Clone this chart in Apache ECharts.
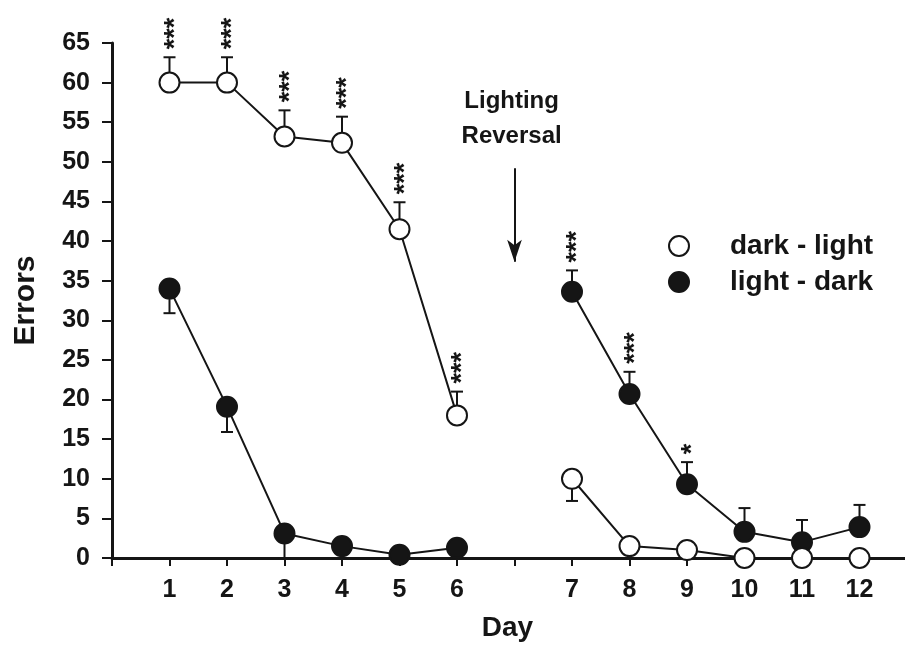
<!DOCTYPE html>
<html>
<head>
<meta charset="utf-8">
<script src="https://cdn.jsdelivr.net/npm/echarts@6/dist/echarts.min.js"></script>
<style>html,body{margin:0;padding:0;background:#fff;}#c{width:905px;height:647px;}</style>
</head>
<body>
<div id="c"></div>
<script>
// ---- data ----
var dayLabels = ['1','2','3','4','5','6','','7','8','9','10','11','12'];
var darkLight    = [60, 60, 53.2, 52.4, 41.5, 18, null, 10, 1.5, 1.0, 0, 0, 0];
var darkLightErr = [3.2, 3.2, 3.3, 3.3, 3.4, 3.0, null, -2.8, null, null, null, null, null];
var darkLightSig = ['***','***','***','***','***','***','','','','','','',''];
var lightDark    = [34, 19.1, 3.1, 1.5, 0.4, 1.3, null, 33.6, 20.7, 9.3, 3.3, 2.0, 3.9];
var lightDarkErr = [-3.1, -3.2, -3.1, null, null, null, null, 2.7, 2.8, 2.8, 3.0, 2.8, 2.8];
var lightDarkSig = ['','','','','','','','***','***','*','','',''];
var yTicks = {min: 0, max: 65, step: 5};

var FONT = '"Liberation Sans", Arial, Helvetica, sans-serif';
var INK = '#151515';

function pairs(vals) {
  return vals.map(function (v, i) { return [i + 1, v == null ? '-' : v]; });
}
function errData(vals, errs) {
  var out = [];
  vals.forEach(function (v, i) { if (v != null && errs[i] != null) out.push([i + 1, v, errs[i]]); });
  return out;
}
function sigData(vals, errs, sig) {
  var out = [];
  vals.forEach(function (v, i) { if (sig[i]) out.push([i + 1, v + (errs[i] > 0 ? errs[i] : 0), i]); });
  return out;
}
function renderErr(params, api) {
  var x = api.value(0), y = api.value(1), e = api.value(2);
  var p0 = api.coord([x, y]);
  var p1 = api.coord([x, Math.max(0, y + e)]);
  var hw = 6;
  return {type: 'group', children: [
    {type: 'line', shape: {x1: p0[0], y1: p0[1], x2: p1[0], y2: p1[1]}, style: {stroke: INK, lineWidth: 2}},
    {type: 'line', shape: {x1: p1[0] - hw, y1: p1[1], x2: p1[0] + hw, y2: p1[1]}, style: {stroke: INK, lineWidth: 2}}
  ]};
}
function makeSigRenderer(sig) {
  return function (params, api) {
    var x = api.value(0), y = api.value(1), idx = api.value(2);
    var p = api.coord([x, y]);
    return {type: 'text', x: p[0] + 6, y: p[1] - 8, rotation: Math.PI / 2,
      style: {text: sig[idx], font: 'bold 27px ' + FONT, fill: INK, align: 'left', verticalAlign: 'middle'}};
  };
}

var chart = echarts.init(document.getElementById('c'));
var option = {
  animation: false,
  backgroundColor: '#fff',
  grid: {left: 112, top: 43, bottom: 89, right: -12, containLabel: false, outerBoundsMode: 'none'},
  xAxis: {
    type: 'value', min: 0, max: 14, interval: 1,
    name: 'Day', nameLocation: 'middle', nameGap: 56,
    nameTextStyle: {fontFamily: FONT, fontWeight: 'bold', fontSize: 28, color: INK, padding: [0, 14, 0, 0]},
    axisLine: {show: true, lineStyle: {color: INK, width: 3}},
    axisTick: {show: true, length: 8, lineStyle: {color: INK, width: 2}},
    splitLine: {show: false},
    axisLabel: {margin: 20, fontFamily: FONT, fontWeight: 'bold', fontSize: 25, color: INK,
      formatter: function (v) { return dayLabels[v - 1] || ''; }}
  },
  yAxis: {
    type: 'value', min: yTicks.min, max: yTicks.max, interval: yTicks.step,
    name: 'Errors', nameLocation: 'middle', nameGap: 71,
    nameTextStyle: {fontFamily: FONT, fontWeight: 'bold', fontSize: 30, color: INK},
    axisLine: {show: true, lineStyle: {color: INK, width: 3}},
    axisTick: {show: true, length: 10, lineStyle: {color: INK, width: 2}},
    splitLine: {show: false},
    axisLabel: {margin: 22, fontFamily: FONT, fontWeight: 'bold', fontSize: 25, color: INK}
  },
  legend: {
    orient: 'vertical', left: 663, top: 227,
    itemWidth: 20, itemHeight: 20, itemGap: 8,
    textStyle: {fontFamily: FONT, fontWeight: 'bold', fontSize: 28, color: INK, padding: [0, 0, 0, 36]},
    data: [
      {name: 'dark - light', icon: 'circle', itemStyle: {color: '#fff', borderColor: INK, borderWidth: 2}},
      {name: 'light - dark', icon: 'circle', itemStyle: {color: INK, borderColor: INK, borderWidth: 2}}
    ]
  },
  series: [
    {type: 'custom', name: 'errDL', renderItem: renderErr, data: errData(darkLight, darkLightErr), z: 1, silent: true},
    {type: 'custom', name: 'errLD', renderItem: renderErr, data: errData(lightDark, lightDarkErr), z: 1, silent: true},
    {type: 'custom', name: 'sigDL', renderItem: makeSigRenderer(darkLightSig), data: sigData(darkLight, darkLightErr, darkLightSig), z: 1, silent: true},
    {type: 'custom', name: 'sigLD', renderItem: makeSigRenderer(lightDarkSig), data: sigData(lightDark, lightDarkErr, lightDarkSig), z: 1, silent: true},
    {
      type: 'line', name: 'light - dark', data: pairs(lightDark), z: 3,
      symbol: 'circle', symbolSize: 20, connectNulls: false,
      itemStyle: {color: INK, borderColor: INK, borderWidth: 2},
      lineStyle: {color: INK, width: 2}
    },
    {
      type: 'line', name: 'dark - light', data: pairs(darkLight), z: 4,
      symbol: 'circle', symbolSize: 20, connectNulls: false,
      itemStyle: {color: '#fff', borderColor: INK, borderWidth: 2},
      lineStyle: {color: INK, width: 2},
      markLine: {
        silent: true, symbol: ['none', 'arrow'], symbolSize: [11, 22],
        lineStyle: {color: INK, width: 2, type: 'solid'}, label: {show: false},
        data: [[{coord: [7, 49.2]}, {coord: [7, 37.4]}]]
      },
      markPoint: {
        silent: true, symbol: 'circle', symbolSize: 0,
        label: {show: true, position: 'inside', formatter: 'Lighting\nReversal', fontFamily: FONT,
          fontWeight: 'bold', fontSize: 24, lineHeight: 35, color: INK},
        data: [{coord: [6.95, 55.4]}]
      }
    }
  ]
};
chart.setOption(option);
</script>
</body>
</html>
